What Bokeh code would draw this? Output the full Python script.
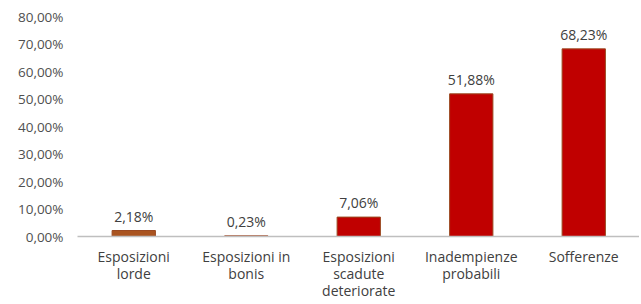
from bokeh.plotting import figure
from bokeh.models import ColumnDataSource, FixedTicker, LabelSet, Range1d
from bokeh.core.properties import value
from bokeh.embed import file_html
from bokeh.resources import INLINE

categories = ["Esposizioni\nlorde", "Esposizioni in\nbonis", "Esposizioni\nscadute\ndeteriorate",
              "Inadempienze\nprobabili", "Sofferenze"]
values = [2.18, 0.23, 7.06, 51.88, 68.23]
value_labels = ["2,18%", "0,23%", "7,06%", "51,88%", "68,23%"]
bar_colors = ["#AA5420", "#C00000", "#C00000", "#C00000", "#C00000"]
y_ticks = [0, 10, 20, 30, 40, 50, 60, 70, 80]
y_tick_labels = ["0,00%", "10,00%", "20,00%", "30,00%", "40,00%", "50,00%", "60,00%", "70,00%", "80,00%"]

FONT = "Open Sans"

xpos = [i + 0.5 for i in range(len(categories))]
src = ColumnDataSource(dict(x=xpos, val=values, lab=value_labels, col=bar_colors))

FRAME_W = 562
CAT_W = 112.5
p = figure(x_range=Range1d(0, FRAME_W / CAT_W), y_range=Range1d(0, 80),
           width=639, height=302,
           output_backend="svg", toolbar_location=None,
           min_border_left=77, min_border_right=0, min_border_top=16, min_border_bottom=66)
p.outline_line_color = None
p.background_fill_color = "white"
p.border_fill_color = "white"

p.vbar(x="x", top="val", width=0.385, source=src, fill_color="col",
       line_color="#9A4A22", line_width=1)

labels = LabelSet(x="x", y="val", text="lab", source=src, text_align="center",
                  text_baseline="bottom", y_offset=5, text_font=value(FONT),
                  text_font_size="14px", text_color="#404040")
p.add_layout(labels)

p.xgrid.grid_line_color = None
p.ygrid.grid_line_color = None

p.xaxis.ticker = FixedTicker(ticks=xpos)
p.xaxis.major_label_overrides = {x: c for x, c in zip(xpos, categories)}
p.xaxis.axis_line_color = "#BFBFBF"
p.xaxis.axis_line_width = 1.5
p.xaxis.major_tick_line_color = None
p.xaxis.minor_tick_line_color = None
p.xaxis.major_label_text_font = FONT
p.xaxis.major_label_text_font_size = "14px"
p.xaxis.major_label_text_color = "#404040"
p.xaxis.major_label_text_line_height = 0.9
p.xaxis.major_label_standoff = 4

p.yaxis.ticker = FixedTicker(ticks=y_ticks)
p.yaxis.major_label_overrides = {t: l for t, l in zip(y_ticks, y_tick_labels)}
p.yaxis.axis_line_color = None
p.yaxis.major_tick_line_color = None
p.yaxis.minor_tick_line_color = None
p.yaxis.major_label_text_font = FONT
p.yaxis.major_label_text_font_size = "13.5px"
p.yaxis.major_label_text_color = "#505050"
p.yaxis.major_label_standoff = 8

open("out.html", "w").write(file_html(p, INLINE))
